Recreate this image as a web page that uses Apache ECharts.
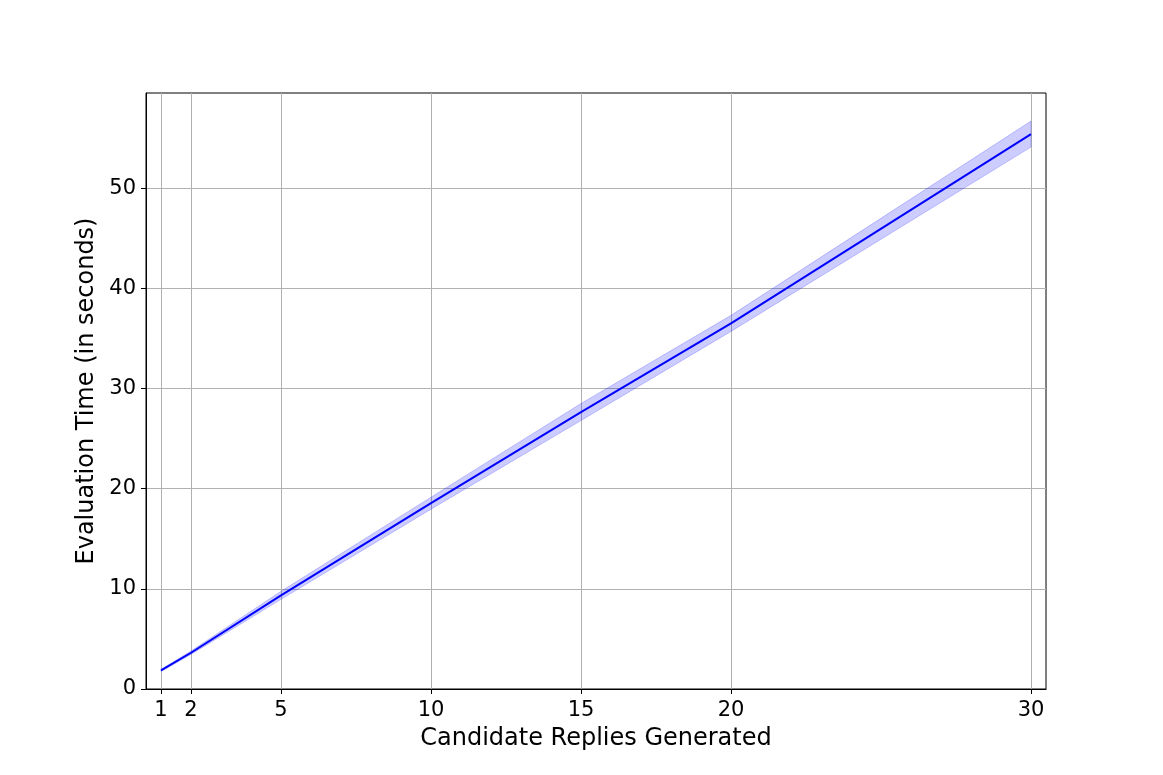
<!DOCTYPE html>
<html><head><meta charset="utf-8">
<script src="https://cdn.jsdelivr.net/npm/echarts@6/dist/echarts.min.js"></script>
<style>html,body{margin:0;padding:0;background:#fff}#c{width:1163px;height:775px}</style>
</head><body><div id="c"></div>
<script>
const candidates = [1, 2, 5, 10, 15, 20, 30];
const meanTime = [1.85, 3.62, 9.35, 18.55, 27.65, 36.5, 55.4];
const lowerTime = [1.75, 3.45, 8.95, 17.95, 26.8, 35.7, 54.1];
const upperTime = [1.95, 3.8, 9.75, 19.15, 28.5, 37.3, 56.7];
const xTicks = [1, 2, 5, 10, 15, 20, 30];
const yTicks = [0, 10, 20, 30, 40, 50];

const font = 'DejaVu Sans';
const chart = echarts.init(document.getElementById('c'), null, {renderer: 'canvas'});
chart.setOption({
  animation: false,
  grid: {left: 146, right: 117, top: 93, bottom: 86, show: true, borderColor: '#000', borderWidth: 1, backgroundColor: 'transparent'},
  xAxis: {
    type: 'value', min: 0.5, max: 30.5,
    name: 'Candidate Replies Generated', nameLocation: 'middle', nameGap: 38,
    nameTextStyle: {fontFamily: font, fontSize: 24, color: '#000'},
    axisLine: {show: true, onZero: false, lineStyle: {color: '#000', width: 1}},
    axisTick: {show: true, length: 5, customValues: xTicks, lineStyle: {color: '#000'}},
    axisLabel: {customValues: xTicks, fontFamily: font, fontSize: 21, color: '#000', margin: 11},
    splitLine: {show: true, lineStyle: {color: '#b0b0b0', width: 1}}
  },
  yAxis: {
    type: 'value', min: 0, max: 59.5,
    name: 'Evaluation Time (in seconds)', nameLocation: 'middle', nameGap: 42, nameRotate: 90,
    nameTextStyle: {fontFamily: font, fontSize: 24, color: '#000'},
    axisLine: {show: true, lineStyle: {color: '#000', width: 1}},
    axisTick: {show: true, length: 5, customValues: yTicks, lineStyle: {color: '#000'}},
    axisLabel: {customValues: yTicks, fontFamily: font, fontSize: 21, color: '#000', margin: 10},
    splitLine: {show: true, lineStyle: {color: '#b0b0b0', width: 1}}
  },
  series: [
    {
      type: 'custom', silent: true, z: 1,
      data: candidates.map((x, i) => [x, lowerTime[i], upperTime[i]]),
      renderItem: function (params, api) {
        if (params.dataIndex !== 0) return null;
        const pts = [];
        for (let i = 0; i < candidates.length; i++) pts.push(api.coord([candidates[i], upperTime[i]]));
        for (let i = candidates.length - 1; i >= 0; i--) pts.push(api.coord([candidates[i], lowerTime[i]]));
        return {
          type: 'polygon',
          shape: {points: pts},
          style: {fill: 'rgba(0,0,255,0.2)', stroke: 'rgba(0,0,255,0.2)', lineWidth: 1}
        };
      }
    },
    {
      type: 'line', symbol: 'none', z: 3,
      data: candidates.map((x, i) => [x, meanTime[i]]),
      lineStyle: {color: '#0000ff', width: 2}
    }
  ]
});
</script></body></html>
